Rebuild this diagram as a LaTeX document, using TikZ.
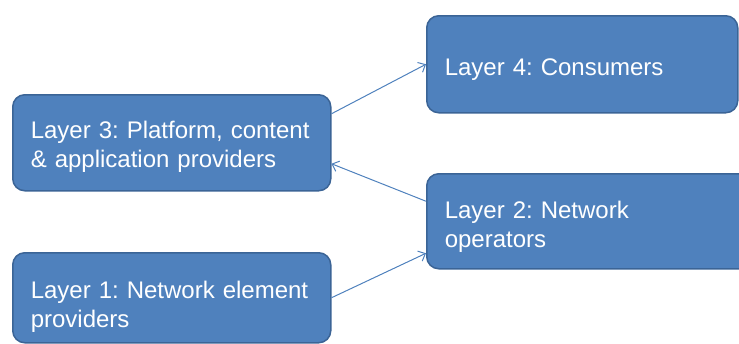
\documentclass[tikz,border=0pt]{standalone}
\usepackage{fontspec}
\setmainfont{Liberation Sans}
\usetikzlibrary{arrows.meta}
\definecolor{layer fill color}{HTML}{4F81BD}
\definecolor{layer border color}{HTML}{3B6496}
\colorlet{link color}{layer fill color}
\tikzset{
    x={1pt},
    y={-1pt},
    layer box/.style n args={3}{
        fill=layer fill color,
        draw=layer border color,
        line width={1.5pt},
        rounded corners={12pt},
        anchor=north west,
        align=left,
        text=white,
        font={\fontsize{24}{28.5}\selectfont\frenchspacing\hyphenpenalty=10000},
        inner xsep=18pt,
        inner ysep=0pt,
        text width={#1},
        minimum height={#2},
        text height={#3},
        text depth={#2-#3},
    },
    link/.style={
        draw={link color},
        line width={1pt},
        -{Straight Barb[length=6pt,width=11pt]},
    },
}

\begin{document}
\begin{tikzpicture}
% background
\useasboundingbox (0,0) rectangle (739,343);
\clip (0,0) rectangle (739,343);
% layers
\node[layer box={282}{96}{44}] (layer3) at (12,94) {Layer 3: Platform, content\\\& application providers};
\node[layer box={275}{97}{60}] (layer4) at (426,15) {Layer 4: Consumers};
\node[layer box={294}{95}{45}] (layer2) at (426,173) {Layer 2: Network\\operators};
\node[layer box={282}{90}{46}] (layer1) at (12,252) {Layer 1: Network element\\providers};
% links
\draw[link] ([yshift=29pt]layer3.east) -- (layer4.west);
\draw[link] ([yshift=20pt]layer2.west) -- ([yshift=-21pt]layer3.east);
\draw[link] (layer1.east) -- ([yshift=-32pt]layer2.west);
\end{tikzpicture}
\end{document}
